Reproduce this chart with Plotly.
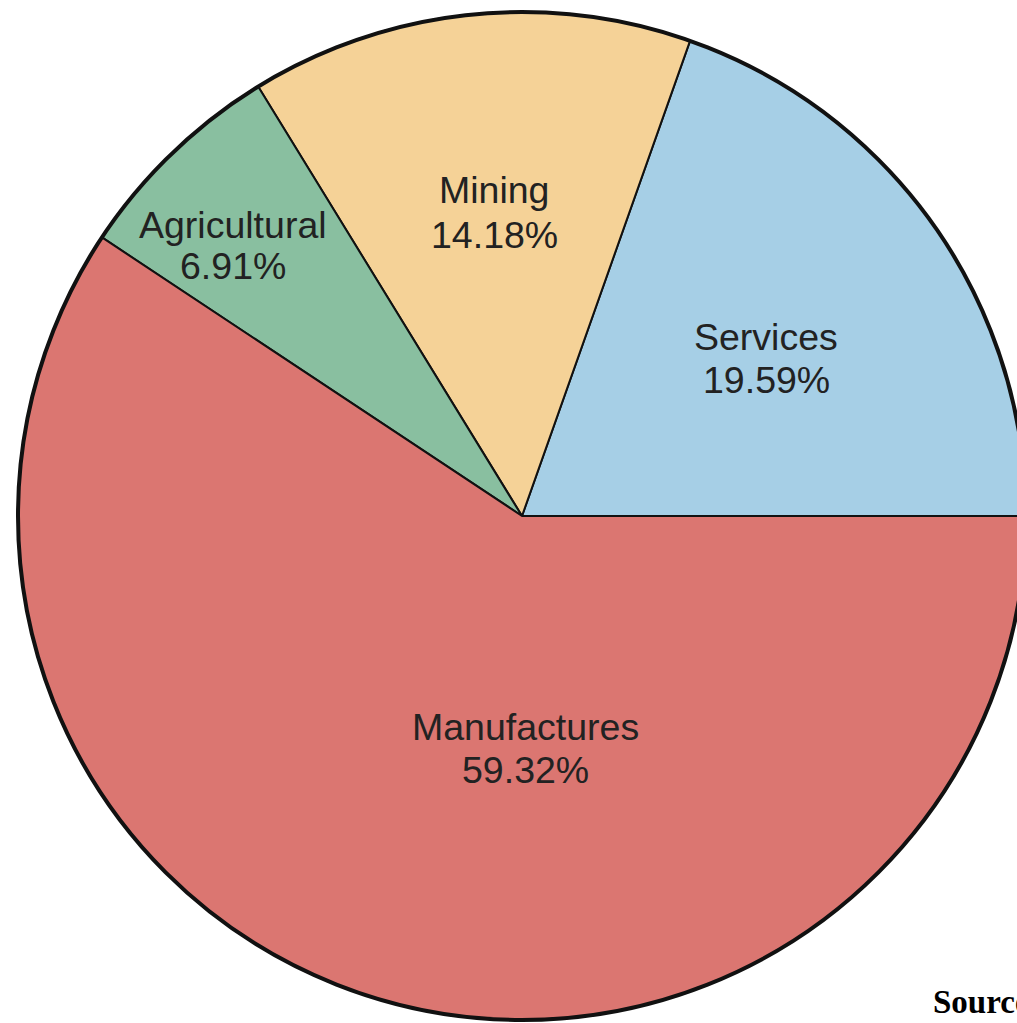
import plotly.graph_objects as go

# ---- data ----
categories = ["Services", "Mining", "Agricultural", "Manufactures"]
shares = [19.59, 14.18, 6.91, 59.32]
colors = ["#a6cfe6", "#f5d297", "#89bfa0", "#db7671"]
source_text = "Source:"

# ---- layout constants (pixels) ----
W, H = 1040, 1023
CX, CY, R = 522, 516, 504          # pie centre / radius in page pixels (top-left origin)
label_pos = {                       # (x, y of name line, y of percent line)
    "Services": (766, 337, 380),
    "Mining": (494, 190, 235),
    "Agricultural": (233, 225, 266),
    "Manufactures": (525, 727, 770),
}

dom_x = [(CX - R) / W, (CX + R) / W]
dom_y = [1 - (CY + R) / H, 1 - (CY - R) / H]

# Plotly's counterclockwise pies put the first slice clockwise of `rotation`;
# shift so that the first slice starts at 3 o'clock and grows counterclockwise.
rotation = 90 - 360 * shares[0] / sum(shares)

fig = go.Figure()
fig.add_trace(go.Pie(
    labels=categories,
    values=shares,
    sort=False,
    direction="counterclockwise",
    rotation=rotation,
    marker=dict(colors=colors, line=dict(color="#111111", width=2)),
    textinfo="none",
    hoverinfo="label+percent",
    showlegend=False,
    domain=dict(x=dom_x, y=dom_y),
))
# outer rim (thicker outline)
fig.add_trace(go.Pie(
    labels=["rim"],
    values=[sum(shares)],
    marker=dict(colors=["rgba(0,0,0,0)"], line=dict(color="#111111", width=4)),
    textinfo="none",
    hoverinfo="skip",
    showlegend=False,
    domain=dict(x=dom_x, y=dom_y),
))

font = dict(family="Liberation Sans, Arial, Helvetica, sans-serif", size=37.5, color="#222222")
annotations = []
for cat, val in zip(categories, shares):
    x, y1, y2 = label_pos[cat]
    annotations.append(dict(x=x / W, y=1 - y1 / H, xref="paper", yref="paper",
                            text=cat, showarrow=False, xanchor="center", yanchor="middle", font=font))
    annotations.append(dict(x=x / W, y=1 - y2 / H, xref="paper", yref="paper",
                            text=f"{val:.2f}%", showarrow=False, xanchor="center", yanchor="middle", font=font))
annotations.append(dict(x=931 / W, y=1 - 1002 / H, xref="paper", yref="paper",
                        text=f"<b>{source_text}</b>", showarrow=False, xanchor="left", yanchor="middle",
                        font=dict(family="Liberation Serif, Times New Roman, serif", size=33, color="#000000")))

fig.update_layout(
    width=W, height=H,
    margin=dict(l=0, r=0, t=0, b=0),
    paper_bgcolor="white",
    plot_bgcolor="white",
    annotations=annotations,
)

fig.write_html("out.html")
